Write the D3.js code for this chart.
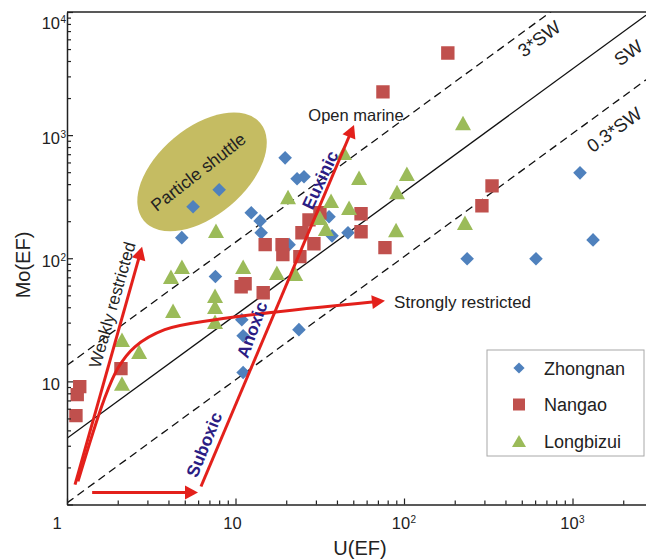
<!DOCTYPE html>
<html>
<head>
<meta charset="utf-8">
<script src="https://cdn.jsdelivr.net/npm/d3@7/dist/d3.min.js"></script>
<style>
  body { margin: 0; background: #fff; }
  svg { display: block; font-family: "Liberation Sans", Arial, Helvetica, sans-serif; }
</style>
</head>
<body>
<svg id="chart" width="646" height="560"></svg>
<script>
// [U(EF), Mo(EF)]
const zhongnan = [
  [5.6, 262], [8.0, 360], [4.8, 147], [7.6, 71], [19.7, 654], [23.2, 442], [25.5, 459],
  [12.4, 234], [14.0, 201], [14.2, 161], [35.9, 217], [37.4, 152], [46.5, 161], [20.8, 129],
  [10.9, 31.7], [11.1, 23.5], [23.8, 26.3], [11.1, 11.8],
  [1108, 494], [1324, 141], [237, 99], [607, 99]
];
const nangao = [
  [75, 2244], [182, 4648], [333, 387], [290, 267], [55.6, 230], [55.6, 164], [77.1, 122],
  [31.7, 234], [27.3, 205], [24.8, 161], [29.2, 131], [15.0, 129], [18.9, 129], [19.1, 107],
  [24.1, 103], [10.8, 58.7], [11.4, 62.1], [14.6, 52.5],
  [2.09, 12.7], [1.19, 9.07], [1.15, 7.81], [1.13, 5.27]
];
const longbizui = [
  [224, 1257], [230, 194], [44.0, 718], [54.1, 450], [104, 485], [90.9, 346], [20.5, 315],
  [36.9, 293], [47.2, 257], [31.7, 213], [34.4, 174], [89.7, 170], [7.66, 167], [11.1, 85.3],
  [17.6, 76.3], [22.6, 74.8], [7.56, 49.6], [7.56, 40.4], [7.56, 30.5], [4.14, 70.8],
  [4.81, 85.3], [4.26, 37.5], [2.12, 21.8], [2.68, 17.4], [2.12, 9.59]
];

const seriesNames = ["Zhongnan", "Nangao", "Longbizui"];
const seriesColors = ["#4f81bd", "#c0504d", "#9bbb59"];

// Mo/U reference lines (Mo = k * U)
const swFactors = [13.5, 3.45, 1.03];
const swLabels = ["3*SW", "SW", "0.3*SW"];
const swLabelPos = [[668, 6150], [2255, 4730], [1862, 1124]];

// red arrows, in [U, Mo]
const arrowWeak = [[1.116, 1.45], [2.79, 124]];
const arrowStrong = [[1.162, 1.54], [1.66, 7.1], [2.01, 12.9], [2.53, 19.1], [3.8, 26.3], [7.56, 31.7], [77.1, 45.2]];
const arrowFlat = [[1.41, 1.25], [5.99, 1.25]];
const arrowRedox = [[6.24, 1.40], [50.5, 1211]];

const xTickLabels = ["1", "10", "10|2", "10|3"];
const yTickLabels = ["10", "10|2", "10|3", "10|4"];

const svg = d3.select("#chart");
const L = 67, R = 646, T = 12, B = 504.5;

const x = d3.scaleLog().domain([1, 2730]).range([L, R]);
const y = d3.scaleLog().domain([1, 1e4]).range([B, T]);

svg.append("clipPath").attr("id", "clip")
  .append("rect").attr("x", L).attr("y", T).attr("width", R - L).attr("height", B - T);

const plot = svg.append("g").attr("clip-path", "url(#clip)");

// particle shuttle ellipse
const ell = [6.33, 503];
plot.append("ellipse")
  .attr("transform", `translate(${x(ell[0])},${y(ell[1])}) rotate(-40)`)
  .attr("rx", 76).attr("ry", 44)
  .attr("fill", "#c5bc62");
svg.append("text")
  .attr("transform", `translate(${x(ell[0])},${y(ell[1]) + 5}) rotate(-38)`)
  .attr("text-anchor", "middle")
  .attr("font-size", 17.5).attr("fill", "#222")
  .text("Particle shuttle");

// SW lines
swFactors.forEach((k, i) => {
  plot.append("line")
    .attr("x1", x(1)).attr("y1", y(k))
    .attr("x2", x(2730)).attr("y2", y(k * 2730))
    .attr("stroke", "#111").attr("stroke-width", 1.3)
    .attr("stroke-dasharray", i === 1 ? null : "8,5");
  const p = swLabelPos[i];
  svg.append("text")
    .attr("transform", `translate(${x(p[0])},${y(p[1]) + 6}) rotate(-36)`)
    .attr("text-anchor", "middle")
    .attr("font-size", 18.5).attr("fill", "#222")
    .text(swLabels[i]);
});

// markers
function diamond(s) { return `M0,${-s}L${s},0L0,${s}L${-s},0Z`; }
function square(s) { return `M${-s},${-s}H${s}V${s}H${-s}Z`; }
function triangle(w, h) { return `M0,${-h / 2}L${w / 2},${h / 2}L${-w / 2},${h / 2}Z`; }

const shapes = [diamond(6.8), square(6.7), triangle(16, 14.5)];
const legendShapes = [diamond(5.6), square(6), triangle(14, 12)];

[zhongnan, nangao, longbizui].forEach((data, i) => {
  plot.append("g").selectAll("path")
    .data(data).enter()
    .append("path")
    .attr("d", shapes[i])
    .attr("transform", d => `translate(${x(d[0])},${y(d[1])})`)
    .attr("fill", seriesColors[i]);
});

// arrows
const red = "#e3201b";

function headPath(p0, p1, len, wid) {
  const dx = p1[0] - p0[0], dy = p1[1] - p0[1], d = Math.hypot(dx, dy);
  const ux = dx / d, uy = dy / d;
  const bx = p1[0] - ux * len, by = p1[1] - uy * len;
  return `M${p1[0]},${p1[1]}L${bx - uy * wid / 2},${by + ux * wid / 2}L${bx + uy * wid / 2},${by - ux * wid / 2}Z`;
}

function drawArrow(pts, curved) {
  const px = pts.map(d => [x(d[0]), y(d[1])]);
  const tip = px[px.length - 1], prev = px[px.length - 2];
  const dd = Math.hypot(tip[0] - prev[0], tip[1] - prev[1]);
  const shortened = px.slice(0, -1).concat([[tip[0] - (tip[0] - prev[0]) / dd * 8, tip[1] - (tip[1] - prev[1]) / dd * 8]]);
  svg.append("path")
    .attr("d", d3.line().curve(curved ? d3.curveCatmullRom.alpha(0.5) : d3.curveLinear)(shortened))
    .attr("fill", "none").attr("stroke", red).attr("stroke-width", 3);
  svg.append("path").attr("d", headPath(prev, tip, 13, 14)).attr("fill", red);
}
drawArrow(arrowWeak, false);
drawArrow(arrowStrong, true);
drawArrow(arrowFlat, false);
drawArrow(arrowRedox, false);

// annotations
function label(txt, u, mo, angle, opts) {
  svg.append("text")
    .attr("transform", `translate(${x(u)},${y(mo)}) rotate(${angle})`)
    .attr("text-anchor", opts.anchor || "middle")
    .attr("dy", "0.36em")
    .attr("font-size", opts.size || 17)
    .attr("font-weight", opts.bold ? "bold" : null)
    .attr("fill", opts.color || "#222")
    .text(txt);
}
const navy = "#2b1d84";
label("Open marine", 51.9, 1459, 0, { size: 16.5 });
label("Strongly restricted", 87.3, 44.4, 0, { anchor: "start" });
label("Weakly restricted", 1.85, 41.9, -74, {});
label("Euxinic", 31.7, 433, -65, { bold: true, color: navy, size: 17.5 });
label("Anoxic", 12.5, 26.3, -70, { bold: true, color: navy, size: 17.5 });
label("Suboxic", 6.5, 3.07, -68, { bold: true, color: navy, size: 17.5 });

// axes
const axisColor = "#222";
function logTicks(lo, hi) {
  const out = [];
  for (let e = 0; e <= 4; e++) for (let m = 1; m <= 9; m++) {
    const v = m * Math.pow(10, e);
    if (v >= lo && v <= hi) out.push(v);
  }
  return out;
}
const isMajor = v => Math.abs(Math.log10(v) - Math.round(Math.log10(v))) < 1e-9;

const gx = svg.append("g").attr("transform", `translate(0,${B})`)
  .call(d3.axisBottom(x).tickValues(logTicks(1, 2730)).tickSize(-4).tickSizeOuter(0).tickFormat(""));
const gy = svg.append("g").attr("transform", `translate(${L},0)`)
  .call(d3.axisLeft(y).tickValues(logTicks(1, 1e4)).tickSize(-4).tickSizeOuter(0).tickFormat(""));
[gx, gy].forEach(g => {
  g.select(".domain").attr("stroke", axisColor).attr("stroke-width", 1.5);
  g.selectAll(".tick line").attr("stroke", axisColor).attr("stroke-width", 1.2);
});
gx.selectAll(".tick").filter(d => isMajor(d)).select("line").attr("y2", -6);
gy.selectAll(".tick").filter(d => isMajor(d)).select("line").attr("x2", 6);

svg.append("line").attr("x1", L).attr("x2", R).attr("y1", T).attr("y2", T)
  .attr("stroke", axisColor).attr("stroke-width", 1.5);

// tick labels with superscripts
function tickText(g, str, px, py, anchorEnd) {
  const parts = str.split("|");
  const t = g.append("text").attr("x", px).attr("y", py)
    .attr("font-size", 16.5).attr("fill", "#222").text(parts[0]);
  if (anchorEnd) {
    t.attr("text-anchor", "end");
    if (parts[1]) g.append("text").attr("x", px + 0.5).attr("y", py - 6)
      .attr("font-size", 10).attr("fill", "#222").text(parts[1]);
  } else if (parts[1]) {
    g.append("text").attr("x", px + 18.8).attr("y", py - 6)
      .attr("font-size", 10).attr("fill", "#222").text(parts[1]);
  }
}
const labG = svg.append("g");
[1, 10, 100, 1000].forEach((v, i) => {
  const w = xTickLabels[i] === "1" ? 9.2 : 18.4;
  const shift = v === 1 ? -10 : -3;
  tickText(labG, xTickLabels[i], x(v) + shift - w / 2, 529, false);
});
[10, 100, 1000, 10000].forEach((v, i) => {
  const py = Math.max(y(v) + 9, 29);
  tickText(labG, yTickLabels[i], 60, py, true);
});

// axis titles
svg.append("text").attr("x", 360).attr("y", 555).attr("text-anchor", "middle")
  .attr("font-size", 20).attr("fill", "#222").text("U(EF)");
svg.append("text").attr("transform", "translate(30,265) rotate(-90)").attr("text-anchor", "middle")
  .attr("font-size", 20).attr("fill", "#222").text("Mo(EF)");

// legend
const lg = svg.append("g");
lg.append("rect").attr("x", 487).attr("y", 350).attr("width", 157).attr("height", 106)
  .attr("fill", "#fff").attr("stroke", "#a8a8a8").attr("stroke-width", 1);
seriesNames.forEach((name, i) => {
  const cy = 368 + i * 36.5;
  lg.append("path").attr("d", legendShapes[i]).attr("transform", `translate(519,${cy})`)
    .attr("fill", seriesColors[i]);
  lg.append("text").attr("x", 544).attr("y", cy + 6.5).attr("font-size", 18)
    .attr("fill", "#222").text(name);
});
</script>
</body>
</html>
